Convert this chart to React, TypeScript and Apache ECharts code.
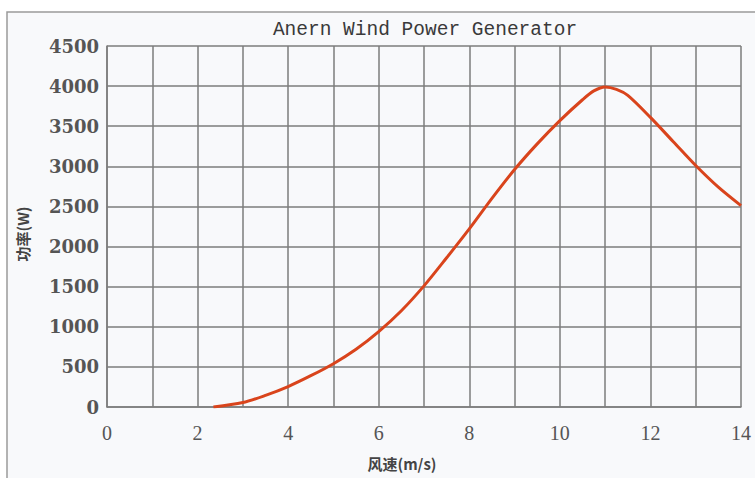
import React, { useEffect, useRef } from "react";
import * as echarts from "echarts";

const titleText = "Anern Wind Power Generator";
const xAxisName = "风速(m/s)";
const yAxisName = "功率(W)";
const windSpeed = [2.35, 3, 3.5, 4, 4.5, 5, 5.5, 6, 6.5, 7, 7.5, 8, 8.5, 9, 9.5, 10, 10.5, 10.75, 11, 11.25, 11.5, 12, 12.5, 13, 13.5, 14];
const powerW = [0, 55, 145, 255, 390, 540, 720, 940, 1200, 1510, 1860, 2220, 2600, 2960, 3280, 3570, 3830, 3940, 3990, 3960, 3885, 3610, 3310, 3010, 2740, 2510];

export default function App() {
  const ref = useRef<HTMLDivElement>(null);
  useEffect(() => {
    if (!ref.current) return;
    const chart = echarts.init(ref.current, null, { renderer: "svg" });
    const data = windSpeed.map((x, i) => [x, powerW[i]]);
    chart.setOption({
      animation: false,
      backgroundColor: "#ffffff",
      graphic: [
        {
          type: "rect",
          z: -10,
          shape: { x: 7, y: 12, width: 760, height: 480 },
          style: { fill: "#f8f9fb", stroke: "#9a9a9a", lineWidth: 1.5 },
        },
        {
          type: "text",
          x: 425,
          y: 30,
          style: {
            text: titleText,
            fontFamily: "Liberation Mono",
            fontSize: 19.5,
            fill: "#3a3a3a",
            textAlign: "center",
            textVerticalAlign: "middle",
          },
        },
        {
          type: "text",
          x: 402,
          y: 463,
          style: {
            text: xAxisName,
            fontFamily: "Noto Sans CJK SC",
            fontWeight: "bold",
            fontSize: 15,
            fill: "#444",
            textAlign: "center",
            textVerticalAlign: "middle",
          },
        },
        {
          type: "text",
          x: 22,
          y: 234,
          rotation: Math.PI / 2,
          style: {
            text: yAxisName,
            fontFamily: "Noto Sans CJK SC",
            fontWeight: "bold",
            fontSize: 15,
            fill: "#444",
            textAlign: "center",
            textVerticalAlign: "middle",
          },
        },
      ],
      grid: { left: 107, right: 14, top: 46, bottom: 71, show: false },
      xAxis: {
        type: "value",
        min: 0,
        max: 14,
        interval: 1,
        axisLine: { show: true, lineStyle: { color: "#7d7d7d", width: 1.5 } },
        axisTick: { show: false },
        splitLine: { show: true, lineStyle: { color: "#7d7d7d", width: 1.5 } },
        axisLabel: {
          margin: 16,
          fontFamily: "Liberation Serif",
          fontSize: 20,
          color: "#555",
          formatter: (v: number) => (v % 2 === 0 ? String(v) : ""),
        },
      },
      yAxis: {
        type: "value",
        min: 0,
        max: 4500,
        interval: 500,
        axisLine: { show: true, lineStyle: { color: "#7d7d7d", width: 1.5 } },
        axisTick: { show: false },
        splitLine: { show: true, lineStyle: { color: "#7d7d7d", width: 1.5 } },
        axisLabel: {
          margin: 8,
          fontFamily: "DejaVu Serif",
          fontWeight: "bold",
          fontSize: 18,
          color: "#555",
          formatter: (v: number) => String(v),
        },
      },
      series: [
        {
          type: "line",
          data,
          smooth: 0.3,
          showSymbol: false,
          lineStyle: { color: "#d9441c", width: 3 },
        },
      ],
    });
    return () => chart.dispose();
  }, []);
  return (
    <div
      ref={ref}
      style={{ position: "fixed", left: 0, top: 0, width: 755, height: 478 }}
    />
  );
}
